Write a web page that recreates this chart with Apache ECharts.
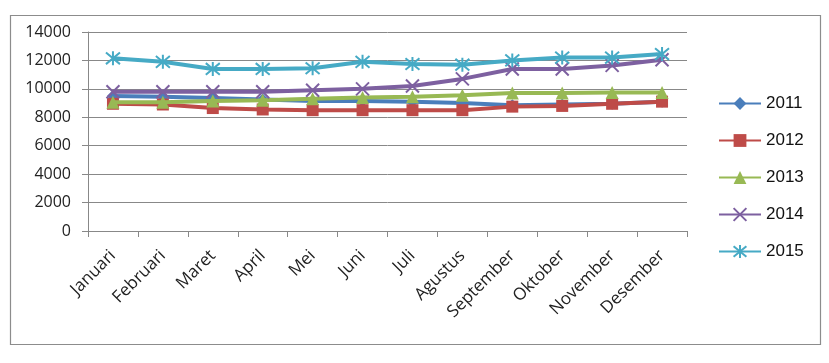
<!DOCTYPE html>
<html>
<head>
<meta charset="utf-8">
<script src="https://cdn.jsdelivr.net/npm/echarts@6/dist/echarts.min.js"></script>
<style>
html,body{margin:0;padding:0;background:#fff;}
#chart{width:829px;height:363px;}
</style>
</head>
<body>
<div id="chart"></div>
<script>
const months = ['Januari','Februari','Maret','April','Mei','Juni','Juli','Agustus','September','Oktober','November','Desember'];
const yearNames = ['2011','2012','2013','2014','2015'];
const s2011 = [9500, 9450, 9350, 9250, 9150, 9150, 9100, 9000, 8850, 8900, 8950, 9100];
const s2012 = [8950, 8900, 8650, 8550, 8500, 8500, 8500, 8500, 8750, 8800, 8950, 9100];
const s2013 = [9050, 9050, 9150, 9200, 9300, 9400, 9450, 9550, 9700, 9700, 9750, 9750];
const s2014 = [9800, 9800, 9800, 9800, 9900, 10000, 10200, 10700, 11400, 11400, 11650, 12050];
const s2015 = [12150, 11900, 11400, 11400, 11450, 11900, 11750, 11700, 12000, 12200, 12200, 12450];

const allSeries = [s2011, s2012, s2013, s2014, s2015];
const colors = ['#4a7ebb', '#be4b48', '#98b954', '#7d60a0', '#46aac5'];
const xSym = 'path://M0,0L10,10M10,0L0,10';
const starSym = 'path://M0,0L10,10M10,0L0,10M5,-1L5,11';
const symbols = ['diamond', 'rect', 'triangle', xSym, starSym];
const symSizes = [12, 12, 13, 13, 14];

const chart = echarts.init(document.getElementById('chart'), null, {renderer: 'canvas'});
chart.setOption({
  animation: false,
  backgroundColor: '#fff',
  graphic: [{
    type: 'rect', left: 8, top: 13, shape: {width: 810, height: 329},
    style: {fill: 'none', stroke: '#8c8c8c', lineWidth: 1.2}, z: -1
  }],
  grid: {left: 88, right: 142, top: 32, bottom: 132, containLabel: false},
  legend: {
    orient: 'vertical', left: 713, top: 90, itemGap: 20, itemWidth: 42, itemHeight: 16, itemTextGap: 5,
    textStyle: {fontFamily: 'Liberation Sans', fontSize: 17, color: '#111'},
    data: yearNames
  },
  xAxis: {
    type: 'category', data: months, boundaryGap: true,
    axisLine: {lineStyle: {color: '#888', width: 1}},
    axisTick: {show: true, length: 6, lineStyle: {color: '#888'}},
    axisLabel: {rotate: 45, margin: 22, fontFamily: 'Open Sans', fontSize: 17, color: '#222', interval: 0}
  },
  yAxis: {
    type: 'value', min: 0, max: 14000, interval: 2000,
    axisLine: {show: true, lineStyle: {color: '#888', width: 1}},
    axisTick: {show: true, length: 6, lineStyle: {color: '#888'}},
    splitLine: {lineStyle: {color: '#888', width: 1}},
    axisLabel: {margin: 17, fontFamily: 'Open Sans', fontSize: 16, color: '#222', formatter: v => String(v)}
  },
  series: allSeries.map((d, i) => ({
    name: yearNames[i], type: 'line', data: d,
    symbol: symbols[i], symbolSize: symSizes[i], showAllSymbol: true,
    lineStyle: {color: colors[i], width: 4},
    itemStyle: {color: colors[i], borderColor: colors[i], borderWidth: i >= 3 ? 2 : 0},
    z: 2 + i
  }))
});
</script>
</body>
</html>
